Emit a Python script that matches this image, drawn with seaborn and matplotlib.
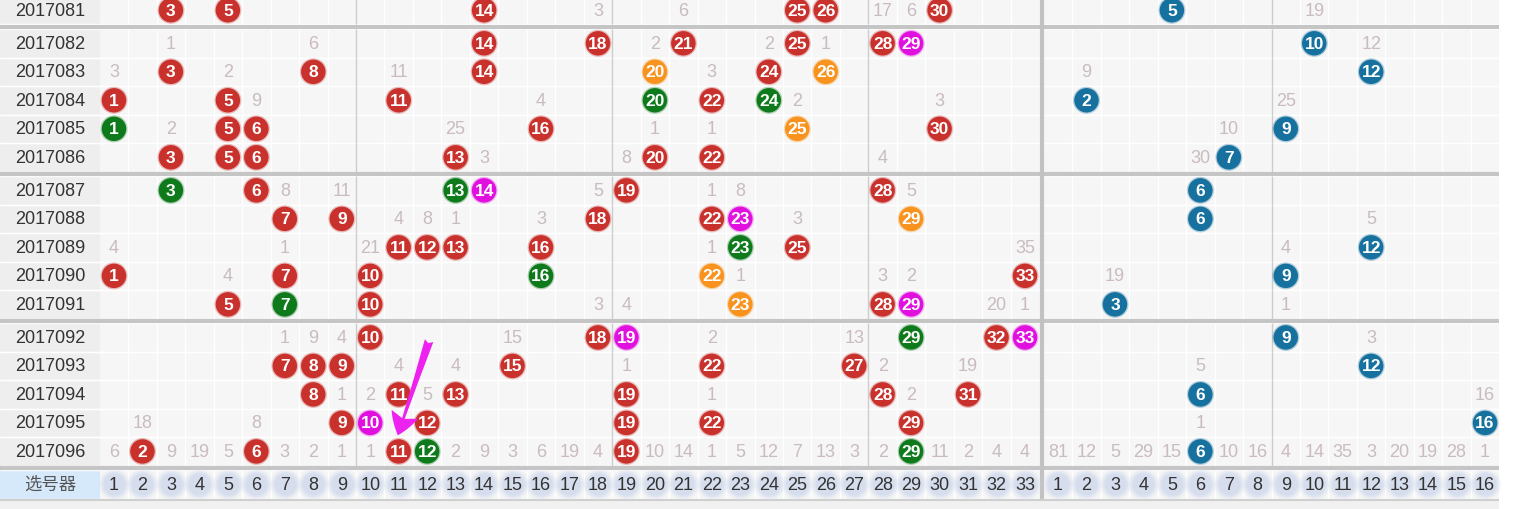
import numpy as np
import pandas as pd
import matplotlib
matplotlib.use("Agg")
import matplotlib.pyplot as plt
from matplotlib.patches import Rectangle, FancyArrowPatch
import seaborn as sns

# ---------------------------------------------------------------- data
periods = ["2017081", "2017082", "2017083", "2017084", "2017085", "2017086",
           "2017087", "2017088", "2017089", "2017090", "2017091",
           "2017092", "2017093", "2017094", "2017095", "2017096"]

red_hits = [
    [3, 5, 14, 25, 26, 30],
    [14, 18, 21, 25, 28, 29],
    [3, 8, 14, 20, 24, 26],
    [1, 5, 11, 20, 22, 24],
    [1, 5, 6, 16, 25, 30],
    [3, 5, 6, 13, 20, 22],
    [3, 6, 13, 14, 19, 28],
    [7, 9, 18, 22, 23, 29],
    [11, 12, 13, 16, 23, 25],
    [1, 7, 10, 16, 22, 33],
    [5, 7, 10, 23, 28, 29],
    [10, 18, 19, 29, 32, 33],
    [7, 8, 9, 15, 22, 27],
    [8, 11, 13, 19, 28, 31],
    [9, 10, 12, 19, 22, 29],
    [2, 6, 11, 12, 19, 29],
]
# ball colour code per red hit: r=plain, g=green, o=orange, m=magenta
red_tags = ["rrrrrr", "rrrrrm", "rrroro", "rrrgrg", "grrror", "rrrrrr",
            "grgmrr", "rrrrmo", "rrrrgr", "rrrgor", "rgrorm",
            "rrmgrm", "rrrrrr", "rrrrrr", "rmrrrr", "rrrgrg"]

blue_hits = [5, 10, 12, 2, 9, 7, 6, 6, 12, 9, 3, 9, 12, 6, 16, 6]

# omission counts printed in the grid: {column: value}
red_miss = [
    {18: 3, 21: 6, 28: 17, 29: 6},
    {3: 1, 8: 6, 20: 2, 24: 2, 26: 1},
    {1: 3, 5: 2, 11: 11, 22: 3},
    {6: 9, 16: 4, 25: 2, 30: 3},
    {3: 2, 13: 25, 20: 1, 22: 1},
    {14: 3, 19: 8, 28: 4},
    {7: 8, 9: 11, 18: 5, 22: 1, 23: 8, 29: 5},
    {11: 4, 12: 8, 13: 1, 16: 3, 25: 3},
    {1: 4, 7: 1, 10: 21, 22: 1, 33: 35},
    {5: 4, 23: 1, 28: 3, 29: 2},
    {18: 3, 19: 4, 32: 20, 33: 1},
    {7: 1, 8: 9, 9: 4, 15: 15, 22: 2, 27: 13},
    {11: 4, 13: 4, 19: 1, 28: 2, 31: 19},
    {9: 1, 10: 2, 12: 5, 22: 1, 29: 2},
    {2: 18, 6: 8},
    {1: 6, 3: 9, 4: 19, 5: 5, 7: 3, 8: 2, 9: 1, 10: 1, 13: 2, 14: 9, 15: 3,
     16: 6, 17: 19, 18: 4, 20: 10, 21: 14, 22: 1, 23: 5, 24: 12, 25: 7,
     26: 13, 27: 3, 28: 2, 30: 11, 31: 2, 32: 4, 33: 4},
]
blue_miss = [
    {10: 19}, {12: 12}, {2: 9}, {9: 25}, {7: 10}, {6: 30},
    {}, {12: 5}, {9: 4}, {3: 19}, {9: 1},
    {12: 3}, {6: 5}, {16: 16}, {6: 1},
    {1: 81, 2: 12, 3: 5, 4: 29, 5: 15, 7: 10, 8: 16, 9: 4, 10: 14, 11: 35,
     12: 3, 13: 20, 14: 19, 15: 28, 16: 1},
]

red_numbers = list(range(1, 34))
blue_numbers = list(range(1, 17))
selector_label = "选号器"

# ---------------------------------------------------------------- layout
BLUE_OFFSET = 33.16          # x of blue ball m is BLUE_OFFSET + m
GAP = 0.16                   # extra space between row groups
group_of = [0] + [1 + (i - 1) // 5 for i in range(1, len(periods))]
row_y = [i + GAP * g for i, g in enumerate(group_of)]
sel_y = len(periods) + GAP * 4

X0, X1 = -3.004, 51.09
Y_TOP, Y_BOT = -0.3593, 17.5004
RED_L, RED_R = 0.5, 33.5
BLUE_L, BLUE_R = BLUE_OFFSET + 0.5, BLUE_OFFSET + 16.5
SEP_X = (RED_R + BLUE_L) / 2

palette = {"r": "#c9312d", "g": "#0e7a1c", "o": "#f7931e",
           "m": "#e011df", "b": "#17719f"}
MISS_C = "#c9bbbe"
CELL_C = "#f6f6f6"
LABEL_C = "#eeeeee"
LINE_C = "#c5c5c5"

sns.set_style("white")
plt.rcParams["font.family"] = ["Liberation Sans", "Noto Sans CJK SC", "DejaVu Sans"]

fig = plt.figure(figsize=(15.4, 5.09), dpi=100, facecolor="white")
ax = fig.add_axes([0, 0, 1, 1])
ax.set_xlim(X0, X1)
ax.set_ylim(Y_BOT, Y_TOP)
ax.axis("off")

# ---------------------------------------------------------------- grid background
all_rows = row_y + [sel_y]
for k, y in enumerate(all_rows):
    is_sel = k == len(row_y)
    ax.add_patch(Rectangle((X0, y - 0.5), BLUE_R - X0, 1, color=CELL_C, lw=0, zorder=0))
    ax.add_patch(Rectangle((X0, y - 0.5), RED_L - X0, 1,
                           color="#d6e9fb" if is_sel else LABEL_C, lw=0, zorder=0.1))
    # white cell borders
    xs = [c + 0.5 for c in red_numbers[:-1]] + [BLUE_OFFSET + c + 0.5 for c in blue_numbers[:-1]]
    ax.vlines(xs, y - 0.5, y + 0.5, colors="white", lw=1, zorder=0.2)
    ax.hlines([y - 0.5, y + 0.5], X0, BLUE_R, colors="white", lw=1, zorder=0.2)

# thin section dividers inside the data rows
for y in row_y:
    ax.vlines([9.5, 18.5, 27.5, BLUE_OFFSET + 8.5], y - 0.5, y + 0.5,
              colors="#cccccc", lw=1, zorder=0.3)

# group separators
bounds = [(row_y[i] + row_y[i + 1]) / 2 for i in range(len(row_y) - 1)
          if group_of[i] != group_of[i + 1]]
bounds.append((row_y[-1] + sel_y) / 2)
ax.hlines(bounds, X0, BLUE_R, colors=LINE_C, lw=3, zorder=0.4)

# red / blue divider
ax.vlines([SEP_X], Y_TOP, sel_y + 0.5, colors="#c2c2c2", lw=3, zorder=0.4)

# footer strip
ax.add_patch(Rectangle((X0, sel_y + 0.5), BLUE_R - X0, Y_BOT - sel_y - 0.5,
                       color="#f1f1f1", lw=0, zorder=0))
ax.hlines([sel_y + 0.53], X0, BLUE_R, colors="#cfcfcf", lw=1.5, zorder=0.4)

# ---------------------------------------------------------------- period labels
label_x = (X0 + RED_L) / 2
for y, p in zip(row_y, periods):
    ax.text(label_x, y + 0.03, p, ha="center", va="center", fontsize=13, color="#333333", zorder=2)
ax.text(label_x, sel_y, selector_label, ha="center", va="center", fontsize=12.5,
        color="#555555", zorder=2)

# ---------------------------------------------------------------- balls
recs = []
for y, hits, tags in zip(row_y, red_hits, red_tags):
    for n, t in zip(hits, tags):
        recs.append({"x": n, "y": y, "num": n, "tag": t})
for y, n in zip(row_y, blue_hits):
    recs.append({"x": BLUE_OFFSET + n, "y": y, "num": n, "tag": "b"})
balls = pd.DataFrame(recs)

sns.scatterplot(data=balls, x="x", y="y", hue="tag", palette=palette, s=380,
                linewidth=0, alpha=0.3, legend=False, ax=ax, zorder=2.5)
sns.scatterplot(data=balls, x="x", y="y", hue="tag", palette=palette, s=310,
                linewidth=0, legend=False, ax=ax, zorder=3)
for r in balls.itertuples():
    ax.text(r.x, r.y + 0.03, str(int(r.num)), ha="center", va="center",
            color="white", fontsize=12.5, fontweight="bold", zorder=4)

# ---------------------------------------------------------------- omission numbers
for y, rm, bm in zip(row_y, red_miss, blue_miss):
    for c, v in rm.items():
        ax.text(c, y + 0.03, str(v), ha="center", va="center", fontsize=13, color=MISS_C, zorder=2)
    for c, v in bm.items():
        ax.text(BLUE_OFFSET + c, y + 0.03, str(v), ha="center", va="center", fontsize=13,
                color=MISS_C, zorder=2)

# ---------------------------------------------------------------- selector row
sel = pd.DataFrame({"x": red_numbers + [BLUE_OFFSET + m for m in blue_numbers],
                    "y": sel_y,
                    "num": red_numbers + blue_numbers})
for s, a in [(520, 0.15), (420, 0.25), (330, 0.45), (250, 0.7)]:
    sns.scatterplot(data=sel, x="x", y="y", s=s, color="#d3dcee", linewidth=0,
                    alpha=a, legend=False, ax=ax, zorder=1)
for r in sel.itertuples():
    ax.text(r.x, r.y + 0.03, str(int(r.num)), ha="center", va="center",
            fontsize=13, color="#333333", zorder=2)

# ---------------------------------------------------------------- pointer arrow
arrow = FancyArrowPatch((12.10, 11.50), (10.94, 15.01),
                        arrowstyle="fancy,head_length=0.8,head_width=1.0,tail_width=0.32",
                        mutation_scale=20, color="#ee22ee", lw=0, zorder=5)
ax.add_patch(arrow)

fig.savefig("out.png", dpi=100, facecolor="white")
